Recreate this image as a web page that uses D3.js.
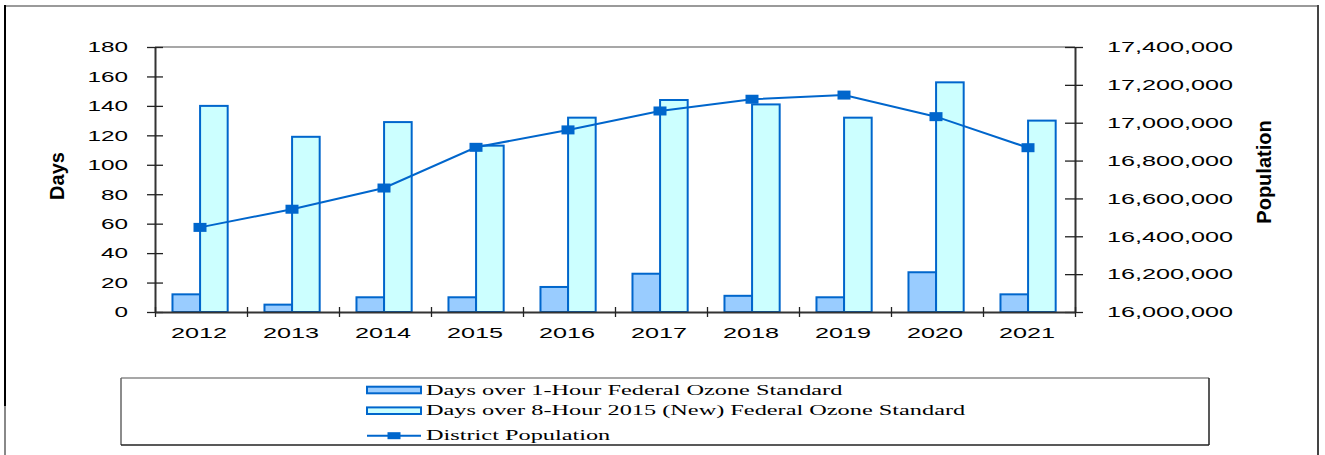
<!DOCTYPE html>
<html>
<head>
<meta charset="utf-8">
<script src="https://cdn.jsdelivr.net/npm/d3@7.9.0/dist/d3.min.js"></script>
<style>
  body { margin: 0; background: #fff; }
  svg { display: block; }
  .tick text { font-family: "Liberation Sans", Arial, sans-serif; font-size: 15px; fill: #000; }
  .axis-title { font-family: "Liberation Sans Narrow", "Arial Narrow", sans-serif; font-weight: bold; font-size: 20px; }
  .legend-text { font-family: "Liberation Serif", "Times New Roman", serif; font-size: 15px; }
</style>
</head>
<body>
<svg id="chart" width="1325" height="455"></svg>
<script>
const years = ["2012", "2013", "2014", "2015", "2016", "2017", "2018", "2019", "2020", "2021"];
const oneHourDays = [12, 5, 10, 10, 17, 26, 11, 10, 27, 12];
const eightHourDays = [140, 119, 129, 113, 132, 144, 141, 132, 156, 130];
const population = [16447000, 16543000, 16655000, 16870000, 16962000, 17062000, 17124000, 17146000, 17032000, 16868000];
const daysTicks = [0, 20, 40, 60, 80, 100, 120, 140, 160, 180];
const popTicks = [16000000, 16200000, 16400000, 16600000, 16800000, 17000000, 17200000, 17400000];
const legendLabels = [
  "Days over 1-Hour Federal Ozone Standard",
  "Days over 8-Hour 2015 (New) Federal Ozone Standard",
  "District Population",
];

const blue = "#0066cc";
const barFills = ["#99ccff", "#ccffff"];
const svg = d3.select("#chart");

const plot = { left: 155, right: 1075, top: 47, bottom: 312 };

const x = d3.scaleBand().domain(years).range([plot.left, plot.right]).padding(0);
const xSeries = d3.scaleBand().domain(["one", "eight"])
  .range([x.bandwidth() * 0.19, x.bandwidth() * 0.79]);
const yDays = d3.scaleLinear().domain([0, 180]).range([plot.bottom, plot.top]);
const yPop = d3.scaleLinear().domain([16000000, 17400000]).range([plot.bottom, plot.top]);

// the original export is stretched sideways, so widen text to match
function stretch(sel, k) {
  sel.each(function () {
    const w = this.getComputedTextLength();
    this.setAttribute("textLength", w * k);
    this.setAttribute("lengthAdjust", "spacingAndGlyphs");
  });
}

// outer frame
svg.append("line").attr("x1", 5).attr("x2", 1318).attr("y1", 6).attr("y2", 6)
  .attr("stroke", "#9a9a9a").attr("stroke-width", 2);
svg.append("line").attr("x1", 5).attr("x2", 5).attr("y1", 5).attr("y2", 406)
  .attr("stroke", "#000").attr("stroke-width", 2);
svg.append("line").attr("x1", 5).attr("x2", 5).attr("y1", 406).attr("y2", 455)
  .attr("stroke", "#888").attr("stroke-width", 2);
svg.append("line").attr("x1", 1318).attr("x2", 1318).attr("y1", 5).attr("y2", 455)
  .attr("stroke", "#444").attr("stroke-width", 2);

// plot area top border
svg.append("line").attr("x1", plot.left).attr("x2", plot.right)
  .attr("y1", plot.top).attr("y2", plot.top)
  .attr("stroke", "#8a8a8a").attr("stroke-width", 1.5);

// bars
const barData = years.map((year, i) => ({ year, one: oneHourDays[i], eight: eightHourDays[i] }));
const groups = svg.append("g").selectAll("g").data(barData).join("g")
  .attr("transform", (d) => `translate(${x(d.year)},0)`);
groups.selectAll("rect")
  .data((d) => [{ key: "one", value: d.one }, { key: "eight", value: d.eight }])
  .join("rect")
  .attr("x", (d) => xSeries(d.key))
  .attr("width", xSeries.bandwidth())
  .attr("y", (d) => yDays(d.value))
  .attr("height", (d) => yDays(0) - yDays(d.value))
  .attr("fill", (d, i) => barFills[i])
  .attr("stroke", blue)
  .attr("stroke-width", 2);

// population line
const cx = (year) => x(year) + x.bandwidth() / 2 - 1;
const line = d3.line().x((d, i) => cx(years[i])).y((d) => yPop(d));
svg.append("path").datum(population)
  .attr("d", line).attr("fill", "none").attr("stroke", blue).attr("stroke-width", 2);
svg.append("g").selectAll("rect").data(population).join("rect")
  .attr("x", (d, i) => cx(years[i]) - 6.5)
  .attr("y", (d) => yPop(d) - 4.5)
  .attr("width", 13).attr("height", 9)
  .attr("fill", blue);

// axes
function styleAxis(g) {
  g.select(".domain").attr("stroke", "#333").attr("stroke-width", 2);
  g.selectAll(".tick line").attr("stroke", "#222").attr("stroke-width", 1.3);
  g.attr("font-family", null).attr("font-size", null);
}

const leftAxis = svg.append("g")
  .attr("transform", `translate(${plot.left},0)`)
  .call(d3.axisLeft(yDays).tickValues(daysTicks).tickSize(8).tickSizeOuter(0).tickPadding(19))
  .call(styleAxis);
leftAxis.selectAll(".tick line").attr("x1", 8);
stretch(leftAxis.selectAll(".tick text"), 1.62);

const rightAxis = svg.append("g")
  .attr("transform", `translate(${plot.right},0)`)
  .call(d3.axisRight(yPop).tickValues(popTicks).tickSize(8).tickSizeOuter(0).tickPadding(24)
    .tickFormat(d3.format(",")))
  .call(styleAxis);
rightAxis.selectAll(".tick line").attr("x1", -10);
stretch(rightAxis.selectAll(".tick text"), 1.68);

const bottomAxis = svg.append("g")
  .attr("transform", `translate(0,${plot.bottom})`)
  .call(d3.axisBottom(x).tickSize(0).tickPadding(15))
  .call(styleAxis);
bottomAxis.selectAll(".tick text").attr("dx", -2);
stretch(bottomAxis.selectAll(".tick text"), 1.68);

const boundaries = d3.scaleLinear().domain([0, years.length]).range([plot.left, plot.right]);
const bottomTicks = svg.append("g")
  .attr("transform", `translate(0,${plot.bottom})`)
  .call(d3.axisBottom(boundaries).ticks(years.length).tickFormat("").tickSize(5).tickSizeOuter(0))
  .call(styleAxis);
bottomTicks.select(".domain").remove();
bottomTicks.selectAll(".tick line").attr("y1", -5);

// axis titles
svg.append("text").attr("class", "axis-title")
  .attr("transform", "translate(64,176) rotate(-90)")
  .attr("text-anchor", "middle").text("Days");
svg.append("text").attr("class", "axis-title")
  .attr("transform", "translate(1271,172) rotate(-90)")
  .attr("text-anchor", "middle").text("Population");

// legend
const legend = svg.append("g");
const lg = { left: 121, right: 1209, top: 378, bottom: 445 };
legend.append("line").attr("x1", lg.left).attr("x2", lg.right).attr("y1", lg.top).attr("y2", lg.top)
  .attr("stroke", "#8a8a8a").attr("stroke-width", 1.5);
legend.append("line").attr("x1", lg.left).attr("x2", lg.left).attr("y1", lg.top).attr("y2", lg.bottom)
  .attr("stroke", "#666").attr("stroke-width", 1.5);
legend.append("line").attr("x1", lg.left).attr("x2", lg.right).attr("y1", lg.bottom).attr("y2", lg.bottom)
  .attr("stroke", "#222").attr("stroke-width", 1.5);
legend.append("line").attr("x1", lg.right).attr("x2", lg.right).attr("y1", lg.top).attr("y2", lg.bottom)
  .attr("stroke", "#222").attr("stroke-width", 1.5);

const rowY = [390, 410.7, 435.7];
const swatchX = 367;
const swatchW = 54;
barFills.forEach((fill, i) => {
  legend.append("rect")
    .attr("x", swatchX).attr("y", rowY[i] - 3.3)
    .attr("width", swatchW).attr("height", 6.6)
    .attr("fill", fill).attr("stroke", blue).attr("stroke-width", 2);
});
legend.append("line")
  .attr("x1", swatchX).attr("x2", swatchX + swatchW)
  .attr("y1", rowY[2]).attr("y2", rowY[2])
  .attr("stroke", blue).attr("stroke-width", 2);
legend.append("rect")
  .attr("x", swatchX + swatchW / 2 - 6.5).attr("y", rowY[2] - 3.5)
  .attr("width", 13).attr("height", 7).attr("fill", blue);

const legendTexts = legend.selectAll("text.legend-text").data(legendLabels).join("text")
  .attr("class", "legend-text")
  .attr("x", 426)
  .attr("y", (d, i) => rowY[i] + 4.5)
  .text((d) => d);
stretch(legendTexts, 1.62);
</script>
</body>
</html>
